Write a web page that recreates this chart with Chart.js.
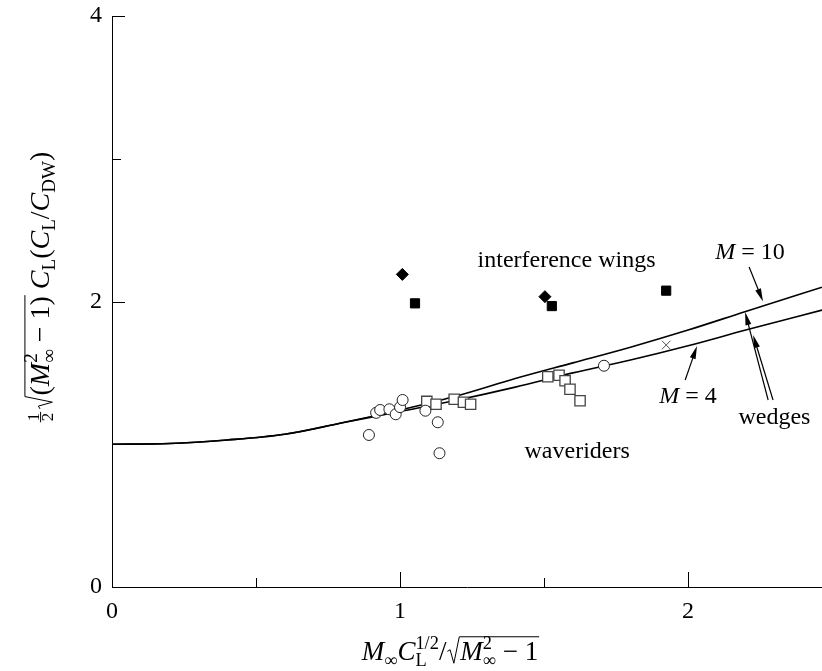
<!DOCTYPE html>
<html><head><meta charset="utf-8">
<script src="https://cdn.jsdelivr.net/npm/chart.js@4"></script>
<style>html,body{margin:0;padding:0;background:#fff;overflow:hidden;} canvas{display:block;}</style>
</head><body>
<canvas id="c" width="822" height="671"></canvas>
<script>
// ---- data ----
const curveX   = [0, 0.2, 0.4, 0.6, 0.8, 1.0, 1.2, 1.4, 1.6, 1.8, 2.0, 2.2, 2.465];
const curveM10 = [1.0, 1.005, 1.03, 1.07, 1.15, 1.24, 1.34, 1.46, 1.57, 1.68, 1.80, 1.93, 2.10];
const curveM4  = [1.0, 1.005, 1.03, 1.07, 1.15, 1.23, 1.31, 1.40, 1.50, 1.59, 1.69, 1.80, 1.94];
const circleX = [0.892, 0.917, 0.931, 0.963, 0.985, 1.000, 1.009, 1.088, 1.131, 1.137, 1.708];
const circleY = [1.065, 1.22, 1.24, 1.245, 1.21, 1.26, 1.31, 1.235, 1.154, 0.937, 1.55];
const openSqX = [1.093, 1.125, 1.188, 1.220, 1.245, 1.513, 1.552, 1.573, 1.590, 1.625];
const openSqY = [1.30, 1.28, 1.315, 1.294, 1.28, 1.473, 1.483, 1.445, 1.385, 1.305];
const diamondX = [1.008, 1.503];
const diamondY = [2.19, 2.034];
const filledSqX = [1.052, 1.527, 1.924];
const filledSqY = [1.987, 1.968, 2.076];
const crossX = [1.924];
const crossY = [1.695];
const xTickValues = [0, 0.5, 1, 1.5, 2];
const xTickLabels = ['0', '', '1', '', '2'];
const yTickValues = [0, 1, 2, 3, 4];
const yTickLabels = ['0', '', '2', '', '4'];
const X_MIN = 0, X_MAX = 2.465, Y_MIN = 0, Y_MAX = 4;

// annotation texts (positions in data units)
const notes = [
  {parts:[{t:'interference wings'}], x:1.578, y:2.284},
  {parts:[{t:'waveriders'}], x:1.615, y:0.946},
  {parts:[{t:'M',it:true},{t:' = 10'}], x:2.215, y:2.34},
  {parts:[{t:'M',it:true},{t:' = 4'}], x:2.0, y:1.331},
  {parts:[{t:'wedges'}], x:2.300, y:1.184}
];
const arrows = [
  {from:[2.212, 2.242], to:[2.260, 2.000]},
  {from:[1.990, 1.450], to:[2.031, 1.688]},
  {from:[2.278, 1.310], to:[2.198, 1.926]},
  {from:[2.295, 1.310], to:[2.226, 1.765]}
];

const FAM = '"Liberation Serif", "Times New Roman", serif';
function fnt(size, it){ return (it ? 'italic ' : '') + size + 'px ' + FAM; }
function rich(ctx, parts, x, y, size, draw){
  let w = 0;
  for (const p of parts){
    if (p.t !== undefined){
      ctx.font = fnt(size, p.it);
      if (draw) ctx.fillText(p.t, x + w, y);
      w += ctx.measureText(p.t).width;
    } else if (p.sub !== undefined){
      const s = size * 0.68; ctx.font = fnt(s, p.it);
      if (draw) ctx.fillText(p.sub, x + w, y + size * 0.22);
      w += ctx.measureText(p.sub).width;
    } else if (p.sup !== undefined){
      const s = size * 0.68; ctx.font = fnt(s, p.it);
      if (draw) ctx.fillText(p.sup, x + w, y - size * 0.42);
      w += ctx.measureText(p.sup).width;
    } else if (p.supsub){
      const s = size * 0.68; ctx.font = fnt(s, false);
      const w1 = ctx.measureText(p.supsub[0]).width, w2 = ctx.measureText(p.supsub[1]).width;
      if (draw){ ctx.fillText(p.supsub[0], x + w, y - size * 0.42); ctx.fillText(p.supsub[1], x + w, y + size * 0.22); }
      w += Math.max(w1, w2);
    } else if (p.frac){
      const s = size * 0.6; ctx.font = fnt(s, false);
      const a = ctx.measureText(p.frac[0]).width, b = ctx.measureText(p.frac[1]).width;
      const fw = Math.max(a, b) + 2; const bar = y - size * 0.3;
      if (draw){
        ctx.fillText(p.frac[0], x + w + (fw - a) / 2, bar - size * 0.05);
        ctx.fillText(p.frac[1], x + w + (fw - b) / 2, bar + size * 0.05 + s * 0.68);
        ctx.fillRect(x + w, bar - 0.5, fw, 1);
      }
      w += fw;
    } else if (p.sqrt){
      const sw = size * 0.48;
      const inner = rich(ctx, p.sqrt, x + w + sw, y, size, draw);
      if (draw){
        const x0 = x + w;
        ctx.beginPath();
        ctx.moveTo(x0, y - size * 0.32);
        ctx.lineTo(x0 + size * 0.1, y - size * 0.38);
        ctx.lineTo(x0 + size * 0.24, y + size * 0.12);
        ctx.lineTo(x0 + size * 0.44, y - size * 0.86);
        ctx.lineTo(x0 + sw + inner + 1, y - size * 0.86);
        ctx.lineWidth = 1; ctx.stroke();
      }
      w += sw + inner;
    } else if (p.sp){
      w += p.sp;
    }
  }
  return w;
}
function richCentered(ctx, parts, cx, y, size){
  const w = rich(ctx, parts, 0, 0, size, false);
  rich(ctx, parts, cx - w / 2, y, size, true);
}

const yTitle = [{frac:['1','2']},{sp:3},{sqrt:[{t:'('},{t:'M',it:true},{supsub:['2','∞']},{t:' − 1)'}]},{t:' '},
  {t:'C',it:true},{sub:'L'},{t:'('},{t:'C',it:true},{sub:'L'},{t:'/'},{t:'C',it:true},{sub:'DW'},{t:')'}];
const xTitle = [{t:'M',it:true},{sub:'∞'},{t:'C',it:true},{supsub:['1/2','L']},{t:'/'},{sp:1},
  {sqrt:[{t:'M',it:true},{supsub:['2','∞']},{t:' − 1'}]}];

const decor = {
  id: 'decor',
  afterDatasetsDraw(chart){
    const {ctx, scales:{x, y}} = chart;
    ctx.save();
    ctx.strokeStyle = '#000'; ctx.fillStyle = '#000'; ctx.lineWidth = 1;
    // inward ticks
    xTickValues.forEach((v, i) => {
      const px = Math.round(x.getPixelForValue(v)) + 0.5;
      const len = xTickLabels[i] ? 15 : 9;
      ctx.beginPath(); ctx.moveTo(px, y.bottom); ctx.lineTo(px, y.bottom - len); ctx.stroke();
    });
    yTickValues.forEach((v, i) => {
      const py = Math.round(y.getPixelForValue(v)) + 0.5;
      const len = yTickLabels[i] ? 13 : 9;
      ctx.beginPath(); ctx.moveTo(x.left, py); ctx.lineTo(x.left + len, py); ctx.stroke();
    });
    // arrows
    arrows.forEach(a => {
      const x1 = x.getPixelForValue(a.from[0]), y1 = y.getPixelForValue(a.from[1]);
      const x2 = x.getPixelForValue(a.to[0]), y2 = y.getPixelForValue(a.to[1]);
      const ang = Math.atan2(y2 - y1, x2 - x1);
      const L = 13, W = 3;
      ctx.beginPath(); ctx.moveTo(x1, y1); ctx.lineTo(x2 - Math.cos(ang) * L * 0.8, y2 - Math.sin(ang) * L * 0.8); ctx.lineWidth = 1.2; ctx.stroke();
      ctx.beginPath();
      ctx.moveTo(x2, y2);
      ctx.lineTo(x2 - Math.cos(ang) * L - Math.sin(ang) * W, y2 - Math.sin(ang) * L + Math.cos(ang) * W);
      ctx.lineTo(x2 - Math.cos(ang) * L + Math.sin(ang) * W, y2 - Math.sin(ang) * L - Math.cos(ang) * W);
      ctx.closePath(); ctx.fill();
    });
    // annotation texts
    ctx.textBaseline = 'middle';
    notes.forEach(n => richCentered(ctx, n.parts, x.getPixelForValue(n.x), y.getPixelForValue(n.y), 24));
    ctx.textBaseline = 'alphabetic';
    // axis titles
    richCentered(ctx, xTitle, 450, 660, 27);
    ctx.translate(49, 287); ctx.rotate(-Math.PI / 2);
    richCentered(ctx, yTitle, 0, 0, 28);
    ctx.restore();
  }
};

const tickFont = {family: FAM, size: 24};
new Chart(document.getElementById('c'), {
  type: 'scatter',
  data: { datasets: [
    {data: circleX.map((v, i) => ({x: v, y: circleY[i]})), pointStyle: 'circle', pointRadius: 5.5,
     backgroundColor: '#fff', borderColor: '#222', borderWidth: 1},
    {data: openSqX.map((v, i) => ({x: v, y: openSqY[i]})), pointStyle: 'rect', pointRadius: 7.3,
     backgroundColor: '#fff', borderColor: '#444', borderWidth: 1.3},
    {data: diamondX.map((v, i) => ({x: v, y: diamondY[i]})), pointStyle: 'rectRot', pointRadius: 6,
     backgroundColor: '#000', borderColor: '#000', borderWidth: 1},
    {data: filledSqX.map((v, i) => ({x: v, y: filledSqY[i]})), pointStyle: 'rect', pointRadius: 6.5,
     backgroundColor: '#000', borderColor: '#000', borderWidth: 1},
    {data: crossX.map((v, i) => ({x: v, y: crossY[i]})), pointStyle: 'crossRot', pointRadius: 6,
     backgroundColor: '#555', borderColor: '#555', borderWidth: 1},
    {data: curveX.map((v, i) => ({x: v, y: curveM10[i]})), showLine: true, pointRadius: 0,
     borderColor: '#000', borderWidth: 1.6, cubicInterpolationMode: 'monotone', fill: false},
    {data: curveX.map((v, i) => ({x: v, y: curveM4[i]})), showLine: true, pointRadius: 0,
     borderColor: '#000', borderWidth: 1.6, cubicInterpolationMode: 'monotone', fill: false}
  ]},
  options: {
    responsive: false, devicePixelRatio: 1, animation: false,
    layout: {autoPadding: false, padding: {top: 16, right: 0, left: 0, bottom: 0}},
    plugins: {legend: {display: false}, tooltip: {enabled: false}},
    scales: {
      x: {type: 'linear', min: X_MIN, max: X_MAX,
          afterFit(s){ s.height = 84; s.paddingLeft = 0; s.paddingRight = 0; },
          afterBuildTicks(s){ s.ticks = xTickValues.map(v => ({value: v})); },
          grid: {drawOnChartArea: false, drawTicks: false},
          border: {color: '#000', width: 1},
          ticks: {autoSkip: false, maxRotation: 0, padding: 10, color: '#000', font: tickFont,
                  callback: (v) => { const i = xTickValues.indexOf(v); return i >= 0 ? xTickLabels[i] : ''; }}},
      y: {type: 'linear', min: Y_MIN, max: Y_MAX,
          afterFit(s){ s.width = 112; s.paddingTop = 0; s.paddingBottom = 0; },
          afterBuildTicks(s){ s.ticks = yTickValues.map(v => ({value: v})); },
          grid: {drawOnChartArea: false, drawTicks: false},
          border: {color: '#000', width: 1},
          ticks: {autoSkip: false, padding: 10, color: '#000', font: tickFont,
                  callback: (v) => { const i = yTickValues.indexOf(v); return i >= 0 ? yTickLabels[i] : ''; }}}
    }
  },
  plugins: [decor]
});
</script>
</body></html>
